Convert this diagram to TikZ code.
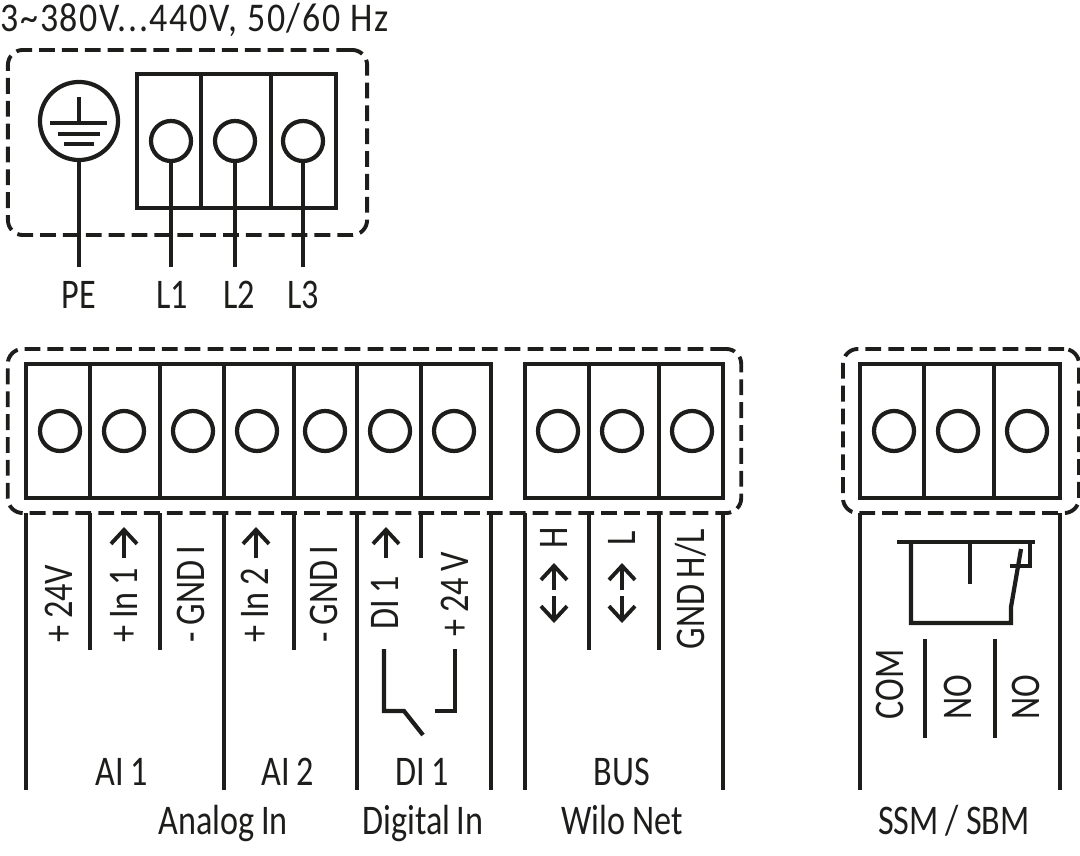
\documentclass[tikz,border=0pt]{standalone}
\usepackage{fontspec}
\setmainfont{Carlito}[FakeStretch=0.81,WordSpace=0.85]
\newfontfamily\supplyfont{Carlito}[FakeStretch=0.88,LetterSpace=4]
\usetikzlibrary{arrows.meta}
\definecolor{ink}{HTML}{1D1D1B}
\tikzset{
    cell/.style={draw=ink,line width=1.2pt,outer sep=0pt,inner sep=0pt,minimum height=1.34cm,minimum width=#1},
    screw/.style={circle,draw=ink,fill=white,line width=1.2pt,outer sep=0pt,inner sep=0pt,minimum size=0.4cm},
    frame/.style={draw=ink,line width=1.1pt,dash pattern=on 4.5pt off 2pt,rounded corners=0.15cm,outer sep=0pt,inner sep=0pt},
    wire/.style={draw=ink,line width=1.2pt},
    lab/.style={text=ink,font=\fontsize{12}{12}\selectfont,inner sep=0pt,anchor=base},
    rot/.style={lab,rotate=90,anchor=base west},
    barb/.style={wire,-{Straight Barb[length=0.14cm,width=0.26cm,line width=1.1pt]}}
}
\begin{document}
\begin{tikzpicture}[x=0.01cm,y=-0.01cm]
    \useasboundingbox (0,0) rectangle (1080,855);
    \coordinate (tail) at (0,267);
    \coordinate (short) at (0,650);
    \coordinate (foot) at (0,790);
    % mains
    \node [lab,anchor=base west,font=\fontsize{11.6}{12}\supplyfont] (supply) at (0,32) {3\textasciitilde380V...440V, 50/60 Hz};
    \node [frame,minimum width=3.59cm,minimum height=1.85cm] (mains) at (187.5,142.5) {};
    \node [cell=0.64cm] (m1) at (169,141) {};
    \node [cell=0.70cm] (m2) at (236,141) {};
    \node [cell=0.65cm] (m3) at (303.5,141) {};
    \node [screw] (s1) at (171,141) {};
    \node [screw] (s2) at (235,141) {};
    \node [screw] (s3) at (303,141) {};
    \node [screw,minimum size=0.78cm] (earth) at (79,121) {};
    \draw [wire] (79,97) -- (79,123);
    \draw [wire] (50,123) -- (107,123);
    \draw [wire] (58,134) -- (100,134);
    \draw [wire] (64,144) -- (94,144);
    \draw [wire] (earth.south) -- (earth.south |- tail);
    \draw [wire] (s1.south) -- (s1.south |- tail);
    \draw [wire] (s2.south) -- (s2.south |- tail);
    \draw [wire] (s3.south) -- (s3.south |- tail);
    \node [lab] (pe) at (79,308) {PE};
    \node [lab] (l1) at (172,308) {L1};
    \node [lab] (l2) at (239,308) {L2};
    \node [lab] (l3) at (303,308) {L3};
    % control terminals
    \node [frame,minimum width=7.33cm,minimum height=1.64cm] (ctrl) at (374.5,431) {};
    \node [cell=0.64cm] (a1) at (58,431) {};
    \node [cell=0.70cm] (a2) at (125,431) {};
    \node [cell=0.64cm] (a3) at (192,431) {};
    \node [cell=0.70cm] (a4) at (259,431) {};
    \node [cell=0.63cm] (a5) at (325.5,431) {};
    \node [cell=0.64cm] (a6) at (389,431) {};
    \node [cell=0.70cm] (a7) at (456,431) {};
    \node [screw] at (60,431) (c1) {};
    \node [screw] at (124,431) (c2) {};
    \node [screw] at (193,431) (c3) {};
    \node [screw] at (257,431) (c4) {};
    \node [screw] at (325,431) (c5) {};
    \node [screw] at (390,431) (c6) {};
    \node [screw] at (454,431) (c7) {};
    \node [cell=0.64cm] (b1) at (557,431) {};
    \node [cell=0.70cm] (b2) at (624,431) {};
    \node [cell=0.64cm] (b3) at (691,431) {};
    \node [screw] at (558,431) (c8) {};
    \node [screw] at (622,431) (c9) {};
    \node [screw] at (692,431) (c10) {};
    % relay terminals
    \node [frame,minimum width=2.36cm,minimum height=1.64cm] (relay) at (961,431) {};
    \node [cell=0.64cm] (r1) at (892,431) {};
    \node [cell=0.70cm] (r2) at (959,431) {};
    \node [cell=0.66cm] (r3) at (1027,431) {};
    \node [screw] at (894,431) (c11) {};
    \node [screw] at (958,431) (c12) {};
    \node [screw] at (1027,431) (c13) {};
    % wires below the terminals
    \draw [wire] (a1.south west |- ctrl.south) -- (a1.south west |- foot);
    \draw [wire] (a2.south west |- ctrl.south) -- (a2.south west |- short);
    \draw [wire] (a3.south west |- ctrl.south) -- (a3.south west |- short);
    \draw [wire] (a4.south west |- ctrl.south) -- (a4.south west |- foot);
    \draw [wire] (a5.south west |- ctrl.south) -- (a5.south west |- short);
    \draw [wire] (a6.south west |- ctrl.south) -- (a6.south west |- foot);
    \draw [wire] (a7.south west |- ctrl.south) -- (a7.south west |- 0,558);
    \draw [wire] (a7.south east |- ctrl.south) -- (a7.south east |- foot);
    \draw [wire] (b1.south west |- ctrl.south) -- (b1.south west |- foot);
    \draw [wire] (b2.south west |- ctrl.south) -- (b2.south west |- short);
    \draw [wire] (b3.south west |- ctrl.south) -- (b3.south west |- short);
    \draw [wire] (b3.south east |- ctrl.south) -- (b3.south east |- foot);
    \draw [wire] (r1.south west |- relay.south) -- (r1.south west |- foot);
    \draw [wire] (r3.south east |- relay.south) -- (r3.south east |- foot);
    \draw [wire] (925,639) -- (925,738);
    \draw [wire] (995,639) -- (995,738);
    % upright labels
    \node [rot] (t1) at (72,643) {+ 24V};
    \node [rot] (t2) at (137,643) {+ In 1};
    \node [rot] (t3) at (204,643) {- GND I};
    \node [rot] (t4) at (268,643) {+ In 2};
    \node [rot] (t5) at (337,643) {- GND I};
    \node [rot] (t6) at (398,630) {DI 1};
    \node [rot] (t7) at (468,637) {+ 24 V};
    \node [rot] (t8) at (567,549) {H};
    \node [rot] (t9) at (635,546) {L};
    \node [rot] (t10) at (704,650) {GND H/L};
    \node [rot] (t11) at (903,720) {COM};
    \node [rot] (t12) at (971,720) {NO};
    \node [rot] (t13) at (1039,720) {NO};
    % arrows
    \draw [barb] (124,558) -- (124,527);
    \draw [barb] (256,558) -- (256,527);
    \draw [barb] (386,558) -- (386,527);
    \draw [barb] (554,590) -- (554,563);
    \draw [barb] (554,596) -- (554,623);
    \draw [barb] (622,590) -- (622,563);
    \draw [barb] (622,596) -- (622,623);
    % switches
    \draw [wire] (384,649) -- (384,711) -- (404,711) -- (423,735);
    \draw [wire] (455,649) -- (455,711) -- (435,711);
    \draw [wire] (897,542) -- (1035,542);
    \draw [wire] (911,542) -- (911,623) -- (1011,623) -- (1011,607) -- (1021,549);
    \draw [wire] (970,542) -- (970,584);
    \draw [wire] (1030,542) -- (1030,566) -- (1010,566);
    % group labels
    \node [lab] (ai1) at (122,785) {AI 1};
    \node [lab] (ai2) at (288,785) {AI 2};
    \node [lab] (di1) at (422,785) {DI 1};
    \node [lab] (bus) at (622,785) {BUS};
    \node [lab] (analog) at (223,834) {Analog In};
    \node [lab] (digital) at (423,834) {Digital In};
    \node [lab] (wilo) at (622,834) {Wilo Net};
    \node [lab] (ssm) at (954,834) {SSM\,/\,SBM};
\end{tikzpicture}
\end{document}
